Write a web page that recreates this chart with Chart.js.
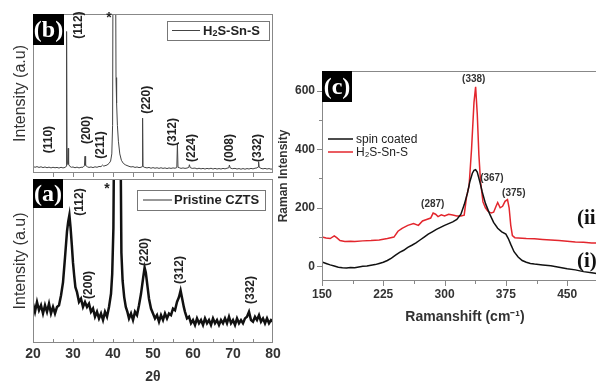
<!DOCTYPE html>
<html><head><meta charset="utf-8">
<script src="https://cdn.jsdelivr.net/npm/chart.js@4"></script>
<style>
html,body{margin:0;padding:0;background:#fff;}
#wrap{position:relative;width:596px;height:384px;overflow:hidden;background:#fff;}
.c{position:absolute;}
</style></head><body>
<div id="wrap">
<div class="c" style="left:0;top:170px;width:290px;height:214px"><canvas id="ca"></canvas></div>
<div class="c" style="left:0;top:0;width:290px;height:178px"><canvas id="cb"></canvas></div>
<div class="c" style="left:270px;top:50px;width:340px;height:290px"><canvas id="cc"></canvas></div>
</div>
<script>
// ---------- DATA ----------
// (b) XRD, H2S-Sn-S
const xrdB2theta = [20,20.5,21,21.5,22,22.5,23,23.5,24,24.5,25,25.5,26,26.5,27,27.5,28,28.3,28.4,28.5,28.65,28.8,28.9,29.2,29.6,30,30.5,31,31.5,32,32.5,32.85,33.0,33.15,33.6,34,34.5,35,35.5,36,36.5,37,37.4,37.7,38,38.5,39,39.4,39.7,39.9,40.0,40.65,40.75,40.9,41.1,41.35,41.7,42.1,42.6,43.2,44,44.5,45,45.5,46,46.5,47,47.3,47.4,47.5,47.8,48.5,49,49.5,50,50.5,51,51.5,52,52.5,53,53.5,54,54.5,55,55.5,55.95,56.1,56.25,56.7,57,57.5,58,58.5,58.95,59.1,59.3,59.8,60.5,61,61.5,62,62.5,63,63.5,64,64.5,65,65.5,66,66.5,67,67.5,68,68.5,68.95,69.1,69.3,69.8,70.5,71,71.5,72,72.5,73,73.5,74,74.5,75,75.5,76,76.25,76.4,76.55,77,77.5,78,78.5,79,79.5,80];
const xrdBIntensity = [4.2,3.6,4,3.5,3.9,3.4,3.8,3.3,3.7,3.2,3.6,3.3,3.5,3.1,3.6,3.2,3.5,4.2,89,5.5,6,15.5,5.5,4.2,3.6,3.8,3.3,3.7,3.2,3.6,3.6,4.5,10.5,4.8,3.9,3.5,3.8,3.4,3.9,3.6,4.1,4,5,4.3,4.6,5,6,7.5,12,30,130,130,60,44,30,20,12,8,6,5,4.2,3.8,4,3.5,3.8,3.4,3.6,4,34.5,4.2,3.6,3.2,3.5,3,3.4,3,3.3,2.9,3.3,2.9,3.2,2.8,3.2,2.9,3.2,3,3.4,18.7,3.6,3.2,2.9,3.2,2.9,3.1,3.5,5.2,3.4,2.9,3.1,2.6,3,2.6,2.9,2.5,2.9,2.6,3,2.5,2.9,2.5,2.8,2.5,2.9,2.6,3,3.3,5,3.2,2.7,2.9,2.5,2.8,2.4,2.8,2.4,2.8,2.5,2.9,2.6,3,3.2,3.8,7.1,3.6,2.9,2.6,2.9,2.5,2.8,2.4,2.7];
const xrdBPeakLabels = ['(110)','(112)','(200)','(211)','(220)','(312)','(224)','(008)','(332)'];
const xrdBPeakX = [23.9,31.5,33.5,37,48.5,55,59.75,69.25,76.25];
const xrdBPeakY = [21,93,27,17.6,46,25.8,15.7,15.7,15.7];

// (a) XRD, pristine CZTS
const xrdA2theta = [20,20.5,21,21.5,22,22.5,23,23.5,24,24.5,25,25.5,26,26.5,27,27.5,28,28.5,28.8,29.1,29.4,29.7,30,30.3,30.6,31,31.5,32,32.5,33,33.5,34,34.5,35,35.5,36,36.5,37,37.5,38,38.5,39,39.5,39.8,40.1,40.25,41.9,42.1,42.4,42.8,43.2,43.6,44,44.5,45,45.5,46,46.5,47,47.5,47.9,48.2,48.6,49,49.5,50,50.5,51,51.5,52,52.5,53,53.5,54,54.5,55,55.5,56,56.5,56.9,57.3,57.7,58,58.5,59,59.5,60,60.5,61,61.5,62,62.5,63,63.5,64,64.5,65,65.5,66,66.5,67,67.5,68,68.5,69,69.5,70,70.5,71,71.5,72,72.5,73,73.5,74,74.5,75,75.5,76,76.5,77,77.5,78,78.5,79,79.5,80];
const xrdAIntensity = [24,19,25,20,23,18,23,19,24,18,22,18,22,23,29,37,52,68,74,78,70,60,49,41,34,31,25,27,22,25,22,24,19,21,16,19,15,18,14,19,16,22,30,42,70,120,120,55,38,28,22,19,15,18,14,19,17,23,30,39,46,43,35,27,21,18,15,17,13,17,14,18,15,18,17,21,20,25,28,32,27,22,19,15,16,12,14,11,15,12,14,11,15,12,14,11,15,12,14,11,14,12,15,12,16,12,14,11,15,12,14,12,15,16,19,14,13,16,14,17,13,15,12,15,12,14,13];
const xrdAPeakLabels = ['(112)','(200)','(220)','(312)','(332)'];
const xrdAPeakX = [31.75,34,48,56.75,74.5];
const xrdAPeakY = [86,35.4,55.5,44.5,32.3];
const xrdTicks = [20,30,40,50,60,70,80];

// (c) Raman
const ramanSpinX = [150,155,160,165,170,175,180,185,190,195,200,205,210,215,220,225,230,235,240,245,250,255,260,265,270,275,280,285,290,295,300,305,310,315,320,324,328,331,334,336,338,340,343,346,350,355,360,365,370,375,378,381,385,390,395,400,405,410,420,430,440,450,460,470,480,490,500];
const ramanSpinY = [15,10,5,1,-3,-5,-6,-4,-5,-2,0,1,4,6,10,14,20,28,38,48,55,65,72,80,90,100,110,118,126,133,140,146,152,160,178,210,250,290,318,328,330,322,290,255,215,180,150,130,118,110,95,75,50,32,20,14,10,8,5,2,-3,-8,-12,-18,-22,-26,-30];
const ramanH2SX = [150,155,160,165,168,172,178,185,190,200,210,220,230,238,243,248,255,262,268,273,278,283,286,289,292,296,300,305,310,315,320,324,327,330,333,336,338,340,342,344,347,350,353,357,360,363,365,368,371,374,377,379,381,383,386,390,400,410,420,430,440,450,460,470,480,490,500];
const ramanH2SY = [100,97,95,104,98,88,85,86,85,87,88,90,95,100,120,130,140,146,140,155,160,165,182,178,170,176,172,178,175,172,172,175,240,275,400,560,613,520,380,290,220,200,188,182,185,205,218,200,205,222,228,200,140,105,98,97,95,94,92,90,88,86,83,82,80,80,79];
const ramanPeakLabels = ['(338)','(367)','(375)','(287)'];
const ramanPeakX = [335.7,357.8,384.7,285.5];
const ramanPeakY = [639,301,250,212];
const ramanXTicks = [150,225,300,375,450];
const ramanYTicks = [0,200,400,600];

// ---------- helpers ----------
const pts = (xs, ys) => xs.map((x, i) => ({x, y: ys[i]}));
Chart.defaults.font.family = '"Liberation Sans", Arial, sans-serif';
Chart.defaults.color = '#333';
const FAM = '"Liberation Sans", Arial, sans-serif';

const framePlugin = {
  id: 'frame',
  afterDraw(chart, args, o) {
    const {ctx, chartArea: a, scales} = chart;
    ctx.save();
    (o.ticks || []).forEach(t => {
      const s = scales[t.axis];
      ctx.strokeStyle = o.color; ctx.lineWidth = 1;
      t.values.forEach(v => {
        const p = Math.round(s.getPixelForValue(v)) + 0.5;
        ctx.beginPath();
        if (t.axis === 'x') {
          const y0 = a.bottom;
          ctx.moveTo(p, y0); ctx.lineTo(p, t.dir === 'in' ? y0 - t.len : y0 + t.len);
        } else {
          const x0 = a.left;
          ctx.moveTo(x0, p); ctx.lineTo(t.dir === 'in' ? x0 + t.len : x0 - t.len, p);
        }
        ctx.stroke();
      });
    });
    ctx.strokeStyle = o.color; ctx.lineWidth = 1;
    ctx.strokeRect(a.left + 0.5, a.top + 0.5, a.right - a.left - 1, a.bottom - a.top - 1);
    if (o.tag) {
      ctx.fillStyle = '#000';
      ctx.fillRect(a.left, a.top, o.tag.w, o.tag.h);
      ctx.fillStyle = '#fff';
      ctx.font = 'bold 24px "Liberation Serif", "DejaVu Serif", serif';
      ctx.textAlign = 'center'; ctx.textBaseline = 'middle';
      ctx.fillText(o.tag.text, a.left + o.tag.w / 2, a.top + o.tag.h / 2 + 1);
    }
    if (o.legend) {
      const L = o.legend;
      if (L.box) {
        ctx.strokeStyle = '#777'; ctx.lineWidth = 1;
        ctx.strokeRect(a.left + L.box[0] + 0.5, a.top + L.box[1] + 0.5, L.box[2], L.box[3]);
      }
      L.items.forEach(it => {
        ctx.strokeStyle = it.color; ctx.lineWidth = it.lw || 1;
        ctx.beginPath();
        ctx.moveTo(a.left + L.lx0, a.top + it.y); ctx.lineTo(a.left + L.lx1, a.top + it.y);
        ctx.stroke();
        ctx.fillStyle = '#222';
        ctx.textAlign = 'left'; ctx.textBaseline = 'middle';
        let x = a.left + L.tx;
        const segs = Array.isArray(it.text) ? it.text : [{t: it.text}];
        segs.forEach(sg => {
          ctx.font = sg.font || L.font;
          ctx.fillText(sg.t, x, a.top + it.y + 0.5 + (sg.dy || 0));
          x += ctx.measureText(sg.t).width;
        });
      });
    }
    (o.texts || []).forEach(t => {
      const x = scales.x.getPixelForValue(t.x), y = scales.y.getPixelForValue(t.y);
      ctx.save();
      ctx.translate(x, y);
      if (t.rot) ctx.rotate(t.rot);
      ctx.fillStyle = t.color || '#222';
      ctx.font = t.font;
      ctx.textAlign = t.align || 'center'; ctx.textBaseline = 'middle';
      ctx.fillText(t.text, 0, 0);
      ctx.restore();
    });
    ctx.restore();
  }
};
Chart.register(framePlugin);

const rotLabels = (labels, xs, ys) => labels.map((t, i) => ({text: t, x: xs[i], y: ys[i], rot: -Math.PI / 2, font: 'bold 12px ' + FAM}));
const fiveSteps = [25,30,35,40,45,50,55,60,65,70,75];

function xrdOptions(opts) {
  return {
    responsive: true, maintainAspectRatio: false, animation: false,
    layout: {padding: opts.padding},
    plugins: {legend: {display: false}, tooltip: {enabled: false}, frame: opts.frame},
    elements: {point: {radius: 0}, line: {tension: 0}},
    scales: {
      x: {type: 'linear', min: 20, max: 80,
          grid: {display: false, drawTicks: false}, border: {display: false},
          afterBuildTicks: s => { s.ticks = xrdTicks.map(v => ({value: v})); },
          ticks: {display: opts.showX, padding: 3, color: '#333', font: {size: 14, weight: 'bold'}},
          title: {display: opts.showX, text: '2θ', color: '#333', font: {size: 14, weight: 'bold', lineHeight: 1}, padding: {top: 0, bottom: 0}},
          afterFit: s => { s.height = opts.xh; }},
      y: {min: 0, max: 100,
          grid: {display: false, drawTicks: false}, border: {display: false},
          ticks: {display: false},
          title: {display: true, text: 'Intensity (a.u)', color: '#333', font: {size: 16, weight: 'normal', lineHeight: 1}, padding: {top: 13, bottom: 0}},
          afterFit: s => { s.width = 33; }}
    }
  };
}

new Chart(document.getElementById('cb'), {
  type: 'line',
  data: {datasets: [{data: pts(xrdB2theta, xrdBIntensity), borderColor: '#444', borderWidth: 1}]},
  options: xrdOptions({
    padding: {top: 14, right: 17, left: 0, bottom: 0}, xh: 5, showX: false,
    frame: {
      color: '#888',
      ticks: [{axis: 'x', values: fiveSteps, dir: 'out', len: 4}],
      tag: {text: '(b)', w: 31, h: 31},
      legend: {box: [134, 7, 102, 19], lx0: 139, lx1: 167, tx: 170, font: 'bold 13px ' + FAM,
               items: [{text: [{t: 'H'}, {t: '2', font: 'bold 9px ' + FAM, dy: 3}, {t: 'S-Sn-S'}], y: 16.5, color: '#444'}]},
      texts: rotLabels(xrdBPeakLabels, xrdBPeakX, xrdBPeakY).concat([{text: '*', x: 39, y: 97.5, font: 'bold 14px ' + FAM}])
    }
  })
});

new Chart(document.getElementById('ca'), {
  type: 'line',
  data: {datasets: [{data: pts(xrdA2theta, xrdAIntensity), borderColor: '#111', borderWidth: 2.5}]},
  options: xrdOptions({
    padding: {top: 9, right: 17, left: 0, bottom: 0}, xh: 41, showX: true,
    frame: {
      color: '#888',
      ticks: [{axis: 'x', values: fiveSteps, dir: 'in', len: 4}],
      tag: {text: '(a)', w: 30, h: 29},
      legend: {box: [104, 11, 128, 20], lx0: 110, lx1: 139, tx: 141, font: 'bold 13px ' + FAM,
               items: [{text: 'Pristine CZTS', y: 21, color: '#333'}]},
      texts: rotLabels(xrdAPeakLabels, xrdAPeakX, xrdAPeakY).concat([{text: '*', x: 38.5, y: 94, font: 'bold 14px ' + FAM}])
    }
  })
});

new Chart(document.getElementById('cc'), {
  type: 'line',
  data: {datasets: [
    {data: pts(ramanSpinX, ramanSpinY), borderColor: '#111', borderWidth: 1.5},
    {data: pts(ramanH2SX, ramanH2SY), borderColor: '#e3262d', borderWidth: 1.5}
  ]},
  options: {
    responsive: true, maintainAspectRatio: false, animation: false,
    layout: {padding: {top: 21, right: 2, left: 0, bottom: 0}},
    elements: {point: {radius: 0}, line: {tension: 0}},
    plugins: {legend: {display: false}, tooltip: {enabled: false},
      frame: {
        color: '#888',
        ticks: [
          {axis: 'x', values: ramanXTicks, dir: 'out', len: 5},
          {axis: 'x', values: [187.5,262.5,337.5,412.5,487.5], dir: 'out', len: 3},
          {axis: 'y', values: ramanYTicks, dir: 'out', len: 5},
          {axis: 'y', values: [100,300,500], dir: 'out', len: 3}
        ],
        tag: {text: '(c)', w: 30, h: 31},
        legend: {lx0: 6, lx1: 31, tx: 34, font: '12px ' + FAM,
                 items: [{text: 'spin coated', y: 68, color: '#111', lw: 1.5}, {text: 'H₂S-Sn-S', y: 81, color: '#e3262d', lw: 1.5}]},
        texts: ramanPeakLabels.map((t, i) => ({text: t, x: ramanPeakX[i], y: ramanPeakY[i], font: 'bold 10px ' + FAM, color: '#333'}))
          .concat([
            {text: '(ii)', x: 462, y: 164, align: 'left', color: '#111', font: 'bold 21px "Liberation Serif", "DejaVu Serif", serif'},
            {text: '(i)', x: 462, y: 17, align: 'left', color: '#111', font: 'bold 21px "Liberation Serif", "DejaVu Serif", serif'}
          ])
      }
    },
    scales: {
      x: {type: 'linear', min: 150, max: 500,
          grid: {display: false, drawTicks: false}, border: {display: false},
          afterBuildTicks: s => { s.ticks = ramanXTicks.map(v => ({value: v})); },
          ticks: {padding: 6, color: '#333', font: {size: 12, weight: 'bold'}, maxRotation: 0},
          title: {display: true, text: 'Ramanshift (cm⁻¹)', color: '#333', font: {size: 14, weight: 'bold', lineHeight: 1}, padding: {top: 0, bottom: 16}},
          afterFit: s => { s.height = 59; }},
      y: {min: -50, max: 667,
          grid: {display: false, drawTicks: false}, border: {display: false},
          afterBuildTicks: s => { s.ticks = ramanYTicks.map(v => ({value: v})); },
          ticks: {padding: 7, color: '#333', font: {size: 12, weight: 'bold'}},
          title: {display: true, text: 'Raman Intensity', color: '#333', font: {size: 12, weight: 'bold', lineHeight: 1}, padding: {top: 8, bottom: 0}},
          afterFit: s => { s.width = 52; }}
    }
  }
});
</script>
</body></html>
